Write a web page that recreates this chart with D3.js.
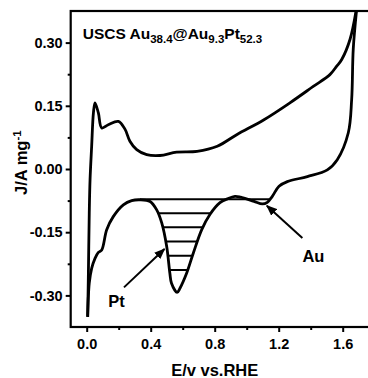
<!DOCTYPE html>
<html>
<head>
<meta charset="utf-8">
<script src="https://cdn.jsdelivr.net/npm/d3@7"></script>
<style>
  body { margin: 0; background: #fff; }
  svg { display: block; font-family: "Liberation Sans", Arial, sans-serif; font-weight: bold; }
</style>
</head>
<body>
<svg id="chart" width="368" height="378"></svg>
<script>
// anodic sweep (upper branch): potential E (V vs RHE) and current J (A/mg)
var anodicE = [0.006, 0.010, 0.016, 0.021, 0.031, 0.042, 0.052, 0.073, 0.094, 0.135, 0.198, 0.240, 0.270, 0.3125, 0.375, 0.458, 0.5625, 0.690, 0.816, 0.940, 1.108, 1.270, 1.416, 1.520, 1.5625, 1.594, 1.646, 1.690];
var anodicJ = [-0.351, -0.263, -0.105, -0.025, 0.054, 0.133, 0.157, 0.133, 0.0975, 0.105, 0.113, 0.094, 0.066, 0.046, 0.034, 0.032, 0.040, 0.042, 0.054, 0.082, 0.117, 0.157, 0.196, 0.224, 0.244, 0.260, 0.308, 0.390];

// cathodic sweep (lower branch), from the upper vertex back to 0 V
var cathodicE = [1.690, 1.666, 1.656, 1.635, 1.566, 1.504, 1.379, 1.254, 1.202, 1.160, 1.129, 1.098, 1.046, 0.962, 0.927, 0.879, 0.833, 0.770, 0.719, 0.666, 0.625, 0.583, 0.565, 0.530, 0.520, 0.500, 0.469, 0.4375, 0.396, 0.333, 0.281, 0.229, 0.166, 0.125, 0.094, 0.073, 0.052, 0.031, 0.016, 0.006];
var cathodicJ = [0.390, 0.285, 0.165, 0.086, 0.022, -0.002, -0.018, -0.030, -0.041, -0.065, -0.079, -0.083, -0.077, -0.067, -0.065, -0.071, -0.080, -0.108, -0.144, -0.200, -0.247, -0.283, -0.293, -0.271, -0.248, -0.184, -0.128, -0.097, -0.077, -0.073, -0.075, -0.085, -0.113, -0.144, -0.192, -0.198, -0.212, -0.236, -0.271, -0.351];

// Pt oxide reduction area: baseline and hatch levels
var baselineE = [0.333, 1.14];
var baselineJ = -0.072;
var hatchJ = [-0.105, -0.138, -0.172, -0.206, -0.240];
var hatchRange = [0.333, 0.927];

// ticks
var xMajor = [0.0, 0.4, 0.8, 1.2, 1.6];
var xMinor = [0.2, 0.6, 1.0, 1.4];
var yMajor = [-0.30, -0.15, 0.00, 0.15, 0.30];
var yMinor = [-0.225, -0.075, 0.075, 0.225];

var svg = d3.select("#chart");

var x = d3.scaleLinear().domain([-0.1, 1.8]).range([70.7, 374.7]);
var y = d3.scaleLinear().domain([-0.375, 0.375]).range([327, 11]);

function toPoints(es, js) {
    return es.map(function(e, i) { return [e, js[i]]; });
}

var line = d3.line()
    .x(function(d) { return x(d[0]); })
    .y(function(d) { return y(d[1]); })
    .curve(d3.curveCatmullRom.alpha(0.5));

// clip to the plot frame
var defs = svg.append("defs");
defs.append("clipPath").attr("id", "plotClip").append("rect")
    .attr("x", x(-0.1)).attr("y", y(0.375))
    .attr("width", x(1.8) - x(-0.1)).attr("height", y(-0.375) - y(0.375));

// clip for the hatching: region under the baseline bounded by the Pt peak
var cathodicPts = toPoints(cathodicE, cathodicJ);
var peakPts = cathodicPts.filter(function(d) { return d[0] >= hatchRange[0] && d[0] <= hatchRange[1]; });
defs.append("clipPath").attr("id", "hatchClip").append("path")
    .attr("d", line(peakPts) + "Z");

// arrow head
defs.append("marker")
    .attr("id", "arrowHead")
    .attr("viewBox", "0 0 10 8")
    .attr("refX", 9).attr("refY", 4)
    .attr("markerWidth", 11).attr("markerHeight", 9)
    .attr("markerUnits", "userSpaceOnUse")
    .attr("orient", "auto")
    .append("path").attr("d", "M0,0 L10,4 L0,8 Z").attr("fill", "#000");

// hatch lines
var hatch = svg.append("g").attr("clip-path", "url(#hatchClip)");
hatch.selectAll("line").data(hatchJ).enter().append("line")
    .attr("x1", x(hatchRange[0])).attr("x2", x(hatchRange[1]))
    .attr("y1", function(d) { return y(d); })
    .attr("y2", function(d) { return y(d); })
    .attr("stroke", "#000").attr("stroke-width", 2);

svg.append("line")
    .attr("x1", x(baselineE[0])).attr("x2", x(baselineE[1]))
    .attr("y1", y(baselineJ)).attr("y2", y(baselineJ))
    .attr("stroke", "#000").attr("stroke-width", 2);

// the two sweeps of the voltammogram
var curves = svg.append("g").attr("clip-path", "url(#plotClip)");
[toPoints(anodicE, anodicJ), cathodicPts].forEach(function(pts) {
    curves.append("path")
        .attr("d", line(pts))
        .attr("fill", "none")
        .attr("stroke", "#000")
        .attr("stroke-width", 2.8)
        .attr("stroke-linejoin", "round");
});

// axes
var xAxis = svg.append("g").attr("transform", "translate(0," + y(-0.375) + ")")
    .call(d3.axisBottom(x).tickValues(xMajor).tickSize(5).tickPadding(7)
        .tickFormat(function(d) { return d.toFixed(1); }));
svg.append("g").attr("transform", "translate(0," + y(-0.375) + ")")
    .call(d3.axisBottom(x).tickValues(xMinor).tickSize(3).tickFormat(""));

var yAxis = svg.append("g").attr("transform", "translate(" + x(-0.1) + ",0)")
    .call(d3.axisLeft(y).tickValues(yMajor).tickSize(5).tickPadding(3)
        .tickFormat(function(d) { return d.toFixed(2); }));
svg.append("g").attr("transform", "translate(" + x(-0.1) + ",0)")
    .call(d3.axisLeft(y).tickValues(yMinor).tickSize(3).tickFormat(""));

svg.selectAll(".domain").remove();
svg.selectAll(".tick line").attr("stroke-width", 2);
svg.selectAll(".tick text")
    .attr("font-family", "Liberation Sans, Arial, sans-serif")
    .attr("font-weight", "bold")
    .attr("font-size", 14.5)
    .attr("fill", "#000");

// frame (right edge falls outside the view)
svg.append("rect")
    .attr("x", x(-0.1)).attr("y", y(0.375))
    .attr("width", x(1.8) - x(-0.1)).attr("height", y(-0.375) - y(0.375))
    .attr("fill", "none").attr("stroke", "#000").attr("stroke-width", 2.2);

// axis titles
svg.append("text")
    .attr("x", x(0.8)).attr("y", 376)
    .attr("text-anchor", "middle").attr("font-size", 16.5)
    .text("E/v vs.RHE");

var yTitle = svg.append("text")
    .attr("transform", "translate(27," + y(0.015) + ") rotate(-90)")
    .attr("text-anchor", "middle").attr("font-size", 16.5);
yTitle.append("tspan").text("J/A mg");
yTitle.append("tspan").attr("dy", -6).attr("font-size", 11.5).text("-1");

// sample name with subscripts
var title = svg.append("text")
    .attr("x", x(-0.025)).attr("y", y(0.308))
    .attr("font-size", 15.5);
var titleParts = [["USCS Au", false], ["38.4", true], ["@Au", false], ["9.3", true], ["Pt", false], ["52.3", true]];
titleParts.forEach(function(p) {
    title.append("tspan")
        .attr("dy", p[1] ? 4 : -4)
        .attr("font-size", p[1] ? 11.5 : 15.5)
        .text(p[0]);
});
title.select("tspan").attr("dy", 0);

// peak annotations
function annotate(label, lx, ly, tail, tip) {
    svg.append("line")
        .attr("x1", x(tail[0])).attr("y1", y(tail[1]))
        .attr("x2", x(tip[0])).attr("y2", y(tip[1]))
        .attr("stroke", "#000").attr("stroke-width", 2)
        .attr("marker-end", "url(#arrowHead)");
    svg.append("text")
        .attr("x", x(lx)).attr("y", y(ly))
        .attr("font-size", 16.5)
        .text(label);
}
annotate("Pt", 0.135, -0.327, [0.233, -0.281], [0.486, -0.190]);
annotate("Au", 1.348, -0.220, [1.348, -0.164], [1.126, -0.087]);
</script>
</body>
</html>
